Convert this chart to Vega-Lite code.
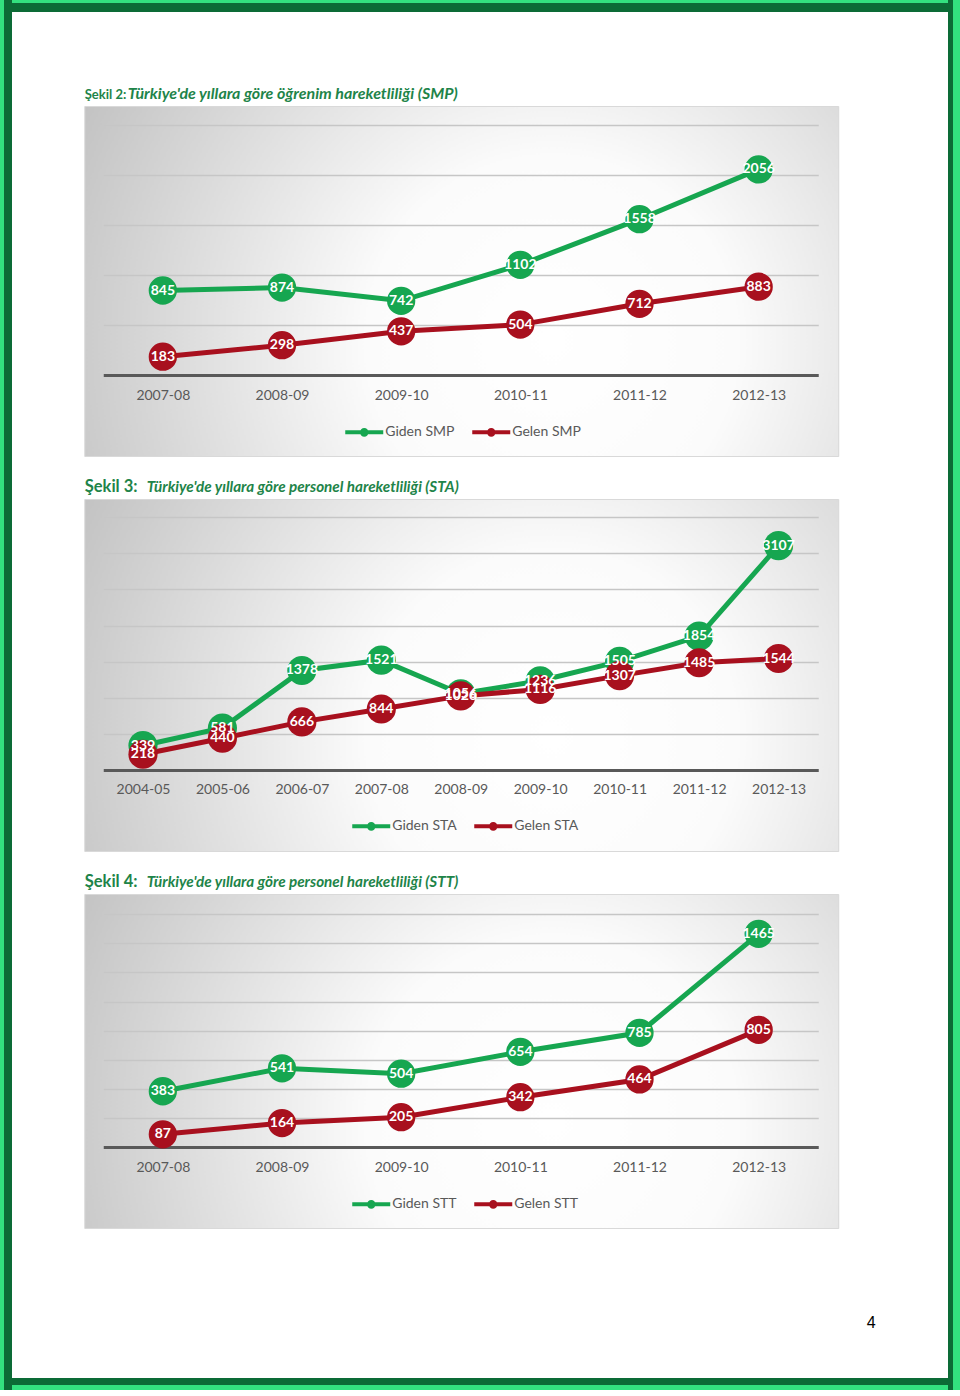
{
  "$schema": "https://vega.github.io/schema/vega-lite/v6.json",
  "padding": 0,
  "background": "white",
  "config": {
    "font": "Lato",
    "view": {"stroke": null},
    "axis": {"labelFont": "Lato", "titleFont": "Lato"},
    "legend": {"labelFont": "Lato"}
  },
  "datasets": {
    "smp": [
      {"year": "2007-08", "series": "Giden SMP", "value": 845},
      {"year": "2008-09", "series": "Giden SMP", "value": 874},
      {"year": "2009-10", "series": "Giden SMP", "value": 742},
      {"year": "2010-11", "series": "Giden SMP", "value": 1102},
      {"year": "2011-12", "series": "Giden SMP", "value": 1558},
      {"year": "2012-13", "series": "Giden SMP", "value": 2056},
      {"year": "2007-08", "series": "Gelen SMP", "value": 183},
      {"year": "2008-09", "series": "Gelen SMP", "value": 298},
      {"year": "2009-10", "series": "Gelen SMP", "value": 437},
      {"year": "2010-11", "series": "Gelen SMP", "value": 504},
      {"year": "2011-12", "series": "Gelen SMP", "value": 712},
      {"year": "2012-13", "series": "Gelen SMP", "value": 883}
    ],
    "sta": [
      {"year": "2004-05", "series": "Giden STA", "value": 339},
      {"year": "2005-06", "series": "Giden STA", "value": 581},
      {"year": "2006-07", "series": "Giden STA", "value": 1378},
      {"year": "2007-08", "series": "Giden STA", "value": 1521},
      {"year": "2008-09", "series": "Giden STA", "value": 1056},
      {"year": "2009-10", "series": "Giden STA", "value": 1236},
      {"year": "2010-11", "series": "Giden STA", "value": 1505},
      {"year": "2011-12", "series": "Giden STA", "value": 1854},
      {"year": "2012-13", "series": "Giden STA", "value": 3107},
      {"year": "2004-05", "series": "Gelen STA", "value": 218},
      {"year": "2005-06", "series": "Gelen STA", "value": 440},
      {"year": "2006-07", "series": "Gelen STA", "value": 666},
      {"year": "2007-08", "series": "Gelen STA", "value": 844},
      {"year": "2008-09", "series": "Gelen STA", "value": 1026},
      {"year": "2009-10", "series": "Gelen STA", "value": 1116},
      {"year": "2010-11", "series": "Gelen STA", "value": 1307},
      {"year": "2011-12", "series": "Gelen STA", "value": 1485},
      {"year": "2012-13", "series": "Gelen STA", "value": 1544}
    ],
    "stt": [
      {"year": "2007-08", "series": "Giden STT", "value": 383},
      {"year": "2008-09", "series": "Giden STT", "value": 541},
      {"year": "2009-10", "series": "Giden STT", "value": 504},
      {"year": "2010-11", "series": "Giden STT", "value": 654},
      {"year": "2011-12", "series": "Giden STT", "value": 785},
      {"year": "2012-13", "series": "Giden STT", "value": 1465},
      {"year": "2007-08", "series": "Gelen STT", "value": 87},
      {"year": "2008-09", "series": "Gelen STT", "value": 164},
      {"year": "2009-10", "series": "Gelen STT", "value": 205},
      {"year": "2010-11", "series": "Gelen STT", "value": 342},
      {"year": "2011-12", "series": "Gelen STT", "value": 464},
      {"year": "2012-13", "series": "Gelen STT", "value": 805}
    ],
    "blank": [{}]
  },
  "spacing": 0,
  "hconcat": [
    {
      "width": 12, "height": 1390,
      "view": {"stroke": null, "fill": {"gradient": "linear", "x1": 0, "y1": 0, "x2": 1, "y2": 0, "stops": [{"offset": 0, "color": "#33e17f"}, {"offset": 0.33, "color": "#33e17f"}, {"offset": 0.33, "color": "#0c6b36"}, {"offset": 1, "color": "#0c6b36"}]}},
      "data": {"name": "blank"},
      "mark": {"type": "point", "opacity": 0},
      "encoding": {}
    },
    {
      "spacing": 47,
      "vconcat": [
        {
          "spacing": 72,
          "center": true,
          "vconcat": [
            {
              "width": 936, "height": 12,
              "view": {"stroke": null, "fill": {"gradient": "linear", "x1": 0, "y1": 0, "x2": 0, "y2": 1, "stops": [{"offset": 0, "color": "#33e17f"}, {"offset": 0.25, "color": "#33e17f"}, {"offset": 0.25, "color": "#0c6b36"}, {"offset": 1, "color": "#0c6b36"}]}},
              "data": {"name": "blank"},
              "mark": {"type": "point", "opacity": 0},
              "encoding": {}
            },
            {
              "spacing": 20,
              "resolve": {"scale": {"color": "independent"}, "legend": {"color": "independent"}},
              "title": {"text": "4", "orient": "bottom", "anchor": "end", "dx": 37, "offset": 86, "baseline": "top", "font": "Liberation Sans", "fontSize": 16, "fontWeight": "normal", "color": "#000000"},
              "vconcat": [
                {
                  "width": 754, "height": 350,
                  "view": {"stroke": "#d9d9d9", "fill": {"gradient": "radial", "x1": 0.62, "y1": 0.58, "r1": 0, "x2": 0.62, "y2": 0.58, "r2": 0.7, "stops": [{"offset": 0, "color": "#ffffff"}, {"offset": 0.35, "color": "#fbfbfb"}, {"offset": 1, "color": "#c2c2c2"}]}},
                  "data": {"name": "smp"},
                  "encoding": {
                    "x": {"field": "year", "type": "ordinal", "scale": {"type": "point", "range": [19, 734], "padding": 0.5},
                      "axis": {"orient": "bottom", "offset": -81, "domain": true, "domainColor": "#595959", "domainWidth": 3, "ticks": false, "tickSize": 0, "grid": false, "labelAngle": 0, "labelFontSize": 14, "labelColor": "#595959", "labelPadding": 20, "labelBaseline": "middle",
                        "title": "Türkiye'de yıllara göre öğrenim hareketliliği (SMP)", "titleX": 43, "titleY": -277, "titleAlign": "left", "titleBaseline": "alphabetic", "titleAngle": 0, "titleFontSize": 16, "titleFontWeight": "bold", "titleFontStyle": "italic", "titleColor": "#1e8449"}},
                    "y": {"field": "value", "type": "quantitative", "scale": {"domain": [-810, 2690], "nice": false, "zero": false},
                      "axis": {"values": [500, 1000, 1500, 2000, 2500], "labels": false, "ticks": false, "domain": false, "grid": true, "gridColor": "#c6c6c6", "gridWidth": 1.5,
                        "title": "Şekil 2:", "titleX": 0, "titleY": -8, "titleAlign": "left", "titleBaseline": "alphabetic", "titleAngle": 0, "titleFontSize": 13, "titleFontWeight": "bold", "titleColor": "#1e8449"}},
                    "color": {"field": "series", "type": "nominal", "scale": {"domain": ["Giden SMP", "Gelen SMP"], "range": ["#16a650", "#a8101e"]},
                      "legend": {"orient": "none", "legendX": 259, "legendY": 305, "direction": "horizontal", "title": null, "padding": 0,
                        "symbolType": "M-1,0L1,0M0.12,0A0.12,0.12,0,1,1,-0.12,0A0.12,0.12,0,1,1,0.12,0Z", "symbolSize": 1444, "symbolStrokeWidth": 4,
                        "labelFontSize": 14, "labelColor": "#595959", "labelOffset": 0, "columnPadding": 9,
                        "encode": {"symbols": {"update": {"fill": {"scale": "color", "field": "value"}, "stroke": {"scale": "color", "field": "value"}, "opacity": {"value": 1}}}}}}
                  },
                  "layer": [
                    {"mark": {"type": "line", "strokeWidth": 5}},
                    {"mark": {"type": "point", "filled": true, "size": 800, "opacity": 1}},
                    {"mark": {"type": "text", "fontWeight": "bold", "fontSize": 14, "baseline": "middle", "align": "center"}, "encoding": {"text": {"field": "value", "type": "quantitative"}, "color": {"value": "white"}}}
                  ]
                },
                {
                  "width": 754, "height": 352,
                  "view": {"stroke": "#d9d9d9", "fill": {"gradient": "radial", "x1": 0.62, "y1": 0.58, "r1": 0, "x2": 0.62, "y2": 0.58, "r2": 0.7, "stops": [{"offset": 0, "color": "#ffffff"}, {"offset": 0.35, "color": "#fbfbfb"}, {"offset": 1, "color": "#c2c2c2"}]}},
                  "data": {"name": "sta"},
                  "encoding": {
                    "x": {"field": "year", "type": "ordinal", "scale": {"type": "point", "range": [19, 734], "padding": 0.5},
                      "axis": {"orient": "bottom", "offset": -81, "domain": true, "domainColor": "#595959", "domainWidth": 3, "ticks": false, "tickSize": 0, "grid": false, "labelAngle": 0, "labelFontSize": 14, "labelColor": "#595959", "labelPadding": 19, "labelBaseline": "middle",
                        "title": "Türkiye'de yıllara göre personel hareketliliği (STA)", "titleX": 62, "titleY": -279, "titleAlign": "left", "titleBaseline": "alphabetic", "titleAngle": 0, "titleFontSize": 15.25, "titleFontWeight": "bold", "titleFontStyle": "italic", "titleColor": "#1e8449"}},
                    "y": {"field": "value", "type": "quantitative", "scale": {"domain": [-1122, 3753], "nice": false, "zero": false},
                      "axis": {"values": [500, 1000, 1500, 2000, 2500, 3000, 3500], "labels": false, "ticks": false, "domain": false, "grid": true, "gridColor": "#c6c6c6", "gridWidth": 1.5,
                        "title": "Şekil 3:", "titleX": 0, "titleY": -8, "titleAlign": "left", "titleBaseline": "alphabetic", "titleAngle": 0, "titleFontSize": 16.5, "titleFontWeight": "bold", "titleColor": "#1e8449"}},
                    "color": {"field": "series", "type": "nominal", "scale": {"domain": ["Giden STA", "Gelen STA"], "range": ["#16a650", "#a8101e"]},
                      "legend": {"orient": "none", "legendX": 266, "legendY": 306, "direction": "horizontal", "title": null, "padding": 0,
                        "symbolType": "M-1,0L1,0M0.12,0A0.12,0.12,0,1,1,-0.12,0A0.12,0.12,0,1,1,0.12,0Z", "symbolSize": 1444, "symbolStrokeWidth": 4,
                        "labelFontSize": 14, "labelColor": "#595959", "labelOffset": 0, "columnPadding": 9,
                        "encode": {"symbols": {"update": {"fill": {"scale": "color", "field": "value"}, "stroke": {"scale": "color", "field": "value"}, "opacity": {"value": 1}}}}}}
                  },
                  "layer": [
                    {"mark": {"type": "line", "strokeWidth": 5}},
                    {"mark": {"type": "point", "filled": true, "size": 850, "opacity": 1}},
                    {"mark": {"type": "text", "fontWeight": "bold", "fontSize": 14, "baseline": "middle", "align": "center"}, "encoding": {"text": {"field": "value", "type": "quantitative"}, "color": {"value": "white"}}}
                  ]
                },
                {
                  "width": 754, "height": 334,
                  "view": {"stroke": "#d9d9d9", "fill": {"gradient": "radial", "x1": 0.62, "y1": 0.58, "r1": 0, "x2": 0.62, "y2": 0.58, "r2": 0.7, "stops": [{"offset": 0, "color": "#ffffff"}, {"offset": 0.35, "color": "#fbfbfb"}, {"offset": 1, "color": "#c2c2c2"}]}},
                  "data": {"name": "stt"},
                  "encoding": {
                    "x": {"field": "year", "type": "ordinal", "scale": {"type": "point", "range": [19, 734], "padding": 0.5},
                      "axis": {"orient": "bottom", "offset": -81, "domain": true, "domainColor": "#595959", "domainWidth": 3, "ticks": false, "tickSize": 0, "grid": false, "labelAngle": 0, "labelFontSize": 14, "labelColor": "#595959", "labelPadding": 20, "labelBaseline": "middle",
                        "title": "Türkiye'de yıllara göre personel hareketliliği (STT)", "titleX": 62, "titleY": -261, "titleAlign": "left", "titleBaseline": "alphabetic", "titleAngle": 0, "titleFontSize": 15.25, "titleFontWeight": "bold", "titleFontStyle": "italic", "titleColor": "#1e8449"}},
                    "y": {"field": "value", "type": "quantitative", "scale": {"domain": [-557, 1739], "nice": false, "zero": false},
                      "axis": {"values": [200, 400, 600, 800, 1000, 1200, 1400, 1600], "labels": false, "ticks": false, "domain": false, "grid": true, "gridColor": "#c6c6c6", "gridWidth": 1.5,
                        "title": "Şekil 4:", "titleX": 0, "titleY": -8, "titleAlign": "left", "titleBaseline": "alphabetic", "titleAngle": 0, "titleFontSize": 16.5, "titleFontWeight": "bold", "titleColor": "#1e8449"}},
                    "color": {"field": "series", "type": "nominal", "scale": {"domain": ["Giden STT", "Gelen STT"], "range": ["#16a650", "#a8101e"]},
                      "legend": {"orient": "none", "legendX": 266, "legendY": 289, "direction": "horizontal", "title": null, "padding": 0,
                        "symbolType": "M-1,0L1,0M0.12,0A0.12,0.12,0,1,1,-0.12,0A0.12,0.12,0,1,1,0.12,0Z", "symbolSize": 1444, "symbolStrokeWidth": 4,
                        "labelFontSize": 14, "labelColor": "#595959", "labelOffset": 0, "columnPadding": 9,
                        "encode": {"symbols": {"update": {"fill": {"scale": "color", "field": "value"}, "stroke": {"scale": "color", "field": "value"}, "opacity": {"value": 1}}}}}}
                  },
                  "layer": [
                    {"mark": {"type": "line", "strokeWidth": 5}},
                    {"mark": {"type": "point", "filled": true, "size": 800, "opacity": 1}},
                    {"mark": {"type": "text", "fontWeight": "bold", "fontSize": 14, "baseline": "middle", "align": "center"}, "encoding": {"text": {"field": "value", "type": "quantitative"}, "color": {"value": "white"}}}
                  ]
                }
              ]
            }
          ]
        },
        {
          "width": 936, "height": 12,
          "view": {"stroke": null, "fill": {"gradient": "linear", "x1": 0, "y1": 0, "x2": 0, "y2": 1, "stops": [{"offset": 0, "color": "#0c6b36"}, {"offset": 0.58, "color": "#0c6b36"}, {"offset": 0.58, "color": "#33e17f"}, {"offset": 1, "color": "#33e17f"}]}},
          "data": {"name": "blank"},
          "mark": {"type": "point", "opacity": 0},
          "encoding": {}
        }
      ]
    },
    {
      "width": 12, "height": 1390,
      "view": {"stroke": null, "fill": {"gradient": "linear", "x1": 0, "y1": 0, "x2": 1, "y2": 0, "stops": [{"offset": 0, "color": "#0c6b36"}, {"offset": 0.42, "color": "#0c6b36"}, {"offset": 0.42, "color": "#33e17f"}, {"offset": 1, "color": "#33e17f"}]}},
      "data": {"name": "blank"},
      "mark": {"type": "point", "opacity": 0},
      "encoding": {}
    }
  ]
}
